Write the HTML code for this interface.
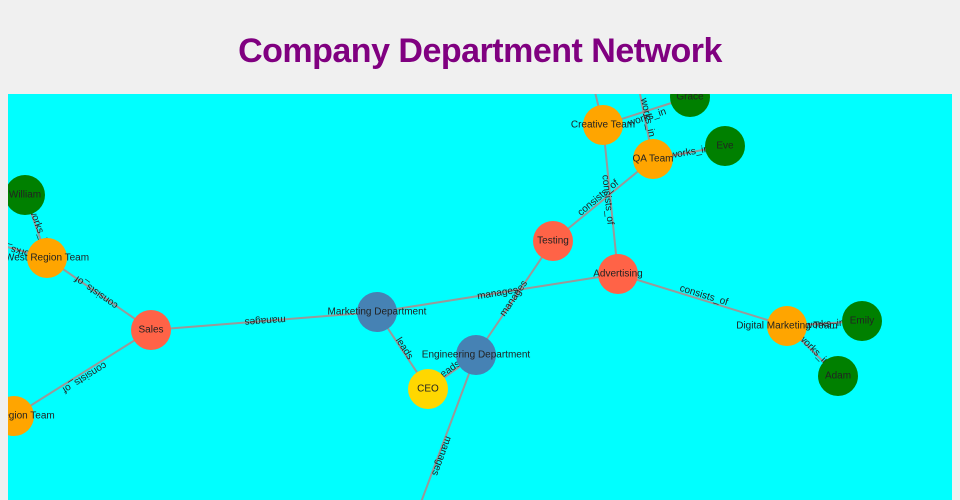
<!DOCTYPE html>
<html><head><meta charset="utf-8"><style>
body{margin:0;background:#f0f0f0;width:960px;height:500px;overflow:hidden;font-family:"Liberation Sans",sans-serif}
h1{margin:0;position:absolute;top:32px;width:960px;text-align:center;color:#800080;font-size:34px;font-weight:bold;letter-spacing:-0.5px}
svg{position:absolute;left:8px;top:94px}
text{font-family:"Liberation Sans",sans-serif;font-size:10px;fill:#222}
</style></head><body>
<h1>Company Department Network</h1>
<svg width="944" height="406" viewBox="8 94 944 406">
<rect x="8" y="94" width="944" height="406" fill="#00ffff"/>
<g stroke="#999" stroke-width="2">
<line x1="603" y1="125" x2="618" y2="274"/><line x1="653" y1="159" x2="553" y2="241"/>
<line x1="603" y1="125" x2="690" y2="97"/><line x1="653" y1="159" x2="636" y2="74"/>
<line x1="603" y1="125" x2="594" y2="88"/><line x1="653" y1="159" x2="725" y2="146"/>
<line x1="618" y1="274" x2="377" y2="312"/><line x1="553" y1="241" x2="476" y2="355"/>
<line x1="377" y1="312" x2="151" y2="330"/><line x1="377" y1="312" x2="428" y2="389"/>
<line x1="476" y1="355" x2="428" y2="389"/><line x1="476" y1="355" x2="420" y2="505"/>
<line x1="618" y1="274" x2="787" y2="326"/><line x1="787" y1="326" x2="862" y2="321"/>
<line x1="787" y1="326" x2="838" y2="376"/><line x1="47" y1="258" x2="25" y2="195"/>
<line x1="47" y1="258" x2="0" y2="245"/><line x1="151" y1="330" x2="47" y2="258"/>
<line x1="151" y1="330" x2="14" y2="416"/>
</g>
<g>
<text transform="translate(605,200) rotate(84)" text-anchor="middle">consists_of</text>
<text transform="translate(600,200) rotate(-40)" text-anchor="middle">consists_of</text>
<text transform="translate(648,120) rotate(-18)" text-anchor="middle">works_in</text>
<text transform="translate(645,118) rotate(78)" text-anchor="middle">works_in</text>
<text transform="translate(690,155) rotate(-10)" text-anchor="middle">works_in</text>
<text transform="translate(498,296) rotate(-9)" text-anchor="middle">manages</text>
<text transform="translate(516,300) rotate(-56)" text-anchor="middle">manages</text>
<text transform="translate(265,318) rotate(176)" text-anchor="middle">manages</text>
<text transform="translate(402,350) rotate(57)" text-anchor="middle">leads</text>
<text transform="translate(451,372) rotate(-35)" text-anchor="middle">leads</text>
<text transform="translate(439,455) rotate(110)" text-anchor="middle">manages</text>
<text transform="translate(703,298) rotate(17)" text-anchor="middle">consists_of</text>
<text transform="translate(825,327) rotate(-4)" text-anchor="middle">works_in</text>
<text transform="translate(812,352) rotate(45)" text-anchor="middle">works_in</text>
<text transform="translate(98,290) rotate(215)" text-anchor="middle">consists_of</text>
<text transform="translate(83,375) rotate(148)" text-anchor="middle">consists_of</text>
<text transform="translate(36,228) rotate(70)" text-anchor="middle">works_in</text>
<text transform="translate(18,248) rotate(195)" text-anchor="middle">works_in</text>
</g>
<g>
<circle cx="636" cy="72" r="20" fill="#6b8e23"/>
<circle cx="690" cy="97" r="20" fill="#008000"/>
<circle cx="603" cy="125" r="20" fill="#ffa500"/>
<circle cx="653" cy="159" r="20" fill="#ffa500"/>
<circle cx="725" cy="146" r="20" fill="#008000"/>
<circle cx="553" cy="241" r="20" fill="#ff6347"/>
<circle cx="618" cy="274" r="20" fill="#ff6347"/>
<circle cx="25" cy="195" r="20" fill="#008000"/>
<circle cx="47" cy="258" r="20" fill="#ffa500"/>
<circle cx="151" cy="330" r="20" fill="#ff6347"/>
<circle cx="14" cy="416" r="20" fill="#ffa500"/>
<circle cx="377" cy="312" r="20" fill="#4682b4"/>
<circle cx="476" cy="355" r="20" fill="#4682b4"/>
<circle cx="428" cy="389" r="20" fill="#ffd700"/>
<circle cx="787" cy="326" r="20" fill="#ffa500"/>
<circle cx="862" cy="321" r="20" fill="#008000"/>
<circle cx="838" cy="376" r="20" fill="#008000"/>
</g>
<g text-anchor="middle" dominant-baseline="central">
<text x="690" y="97">Grace</text><text x="603" y="125">Creative Team</text>
<text x="653" y="159">QA Team</text><text x="725" y="146">Eve</text>
<text x="553" y="241">Testing</text><text x="618" y="274">Advertising</text>
<text x="25" y="195">William</text><text x="47" y="258">West Region Team</text>
<text x="151" y="330">Sales</text><text x="14" y="416">East Region Team</text>
<text x="377" y="312">Marketing Department</text><text x="476" y="355">Engineering Department</text>
<text x="428" y="389">CEO</text><text x="787" y="326">Digital Marketing Team</text>
<text x="862" y="321">Emily</text><text x="838" y="376">Adam</text>
</g>
</svg>
</body></html>
